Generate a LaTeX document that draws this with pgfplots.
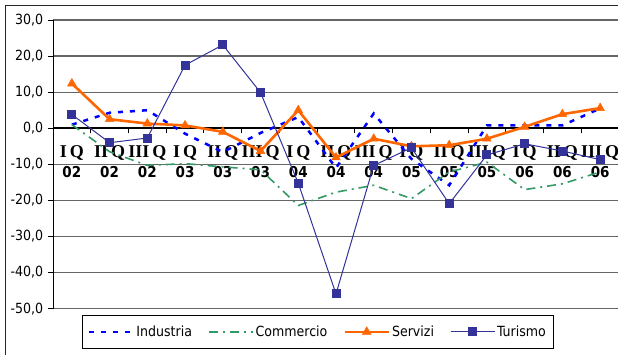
\documentclass[border=0pt]{standalone}
\usepackage{pgfplots}
\pgfplotsset{compat=1.18}
\usepackage{pgfplotstable}
\usepackage{fontspec}
\setmainfont{DejaVu Sans Condensed}
\newfontfamily\romanfont{Liberation Serif}

\definecolor{industria}{HTML}{0000FF}
\definecolor{commercio}{HTML}{339966}
\definecolor{servizi}{HTML}{FF6600}
\definecolor{turismo}{HTML}{333399}

% quarterly change by sector
\pgfplotstableread{
idx Industria Commercio Servizi Turismo
0    1.0    1.0   12.4    3.8
1    4.3   -6.5    2.5   -4.0
2    5.0  -10.3    1.3   -2.7
3   -1.5   -9.8    0.8   17.5
4   -6.6  -10.7   -1.0   23.1
5   -1.3  -11.5   -6.3    9.9
6    3.1  -21.4    5.0  -15.2
7  -11.0  -17.7   -8.1  -45.9
8    4.1  -15.8   -2.9  -10.3
9   -8.5  -19.5   -5.0   -5.4
10 -15.8  -12.1   -4.7  -20.9
11   0.8   -9.4   -2.9   -7.4
12   0.8  -17.0    0.4   -4.3
13   0.8  -15.4    3.9   -6.3
14   5.5  -12.1    5.6   -8.7
}\data

\newcommand\ql[2]{{\romanfont\bfseries\fontsize{18}{20}\selectfont #1}\\[0pt]{\bfseries #2}}

\begin{document}
\begin{tikzpicture}[x=1pt,y=1pt]
\fontsize{14}{17}\selectfont
\begin{axis}[
  at={(53pt,45.3pt)}, anchor=south west,
  width=566pt, height=288.7pt, scale only axis,
  xmin=-0.5, xmax=14.5, ymin=-50, ymax=30,
  axis y line=left, axis x line=middle,
  y axis line style={-, black, line width=0.9pt},
  x axis line style={-, black, line width=2pt},
  hide obscured y ticks=false, hide obscured x ticks=false,
  ytick={-50,-40,...,30},
  ymajorgrids,
  major grid style={black!60, line width=1.2pt},
  xtick={0,...,14},
  xticklabels={{\ql{I\,Q}{02}},{\ql{II\,Q}{02}},{\ql{III\,Q}{02}},
               {\ql{I\,Q}{03}},{\ql{II\,Q}{03}},{\ql{III\,Q}{03}},
               {\ql{I\,Q}{04}},{\ql{II\,Q}{04}},{\ql{III\,Q}{04}},
               {\ql{I\,Q}{05}},{\ql{II\,Q}{05}},{\ql{III\,Q}{05}},
               {\ql{I\,Q}{06}},{\ql{II\,Q}{06}},{\ql{III\,Q}{06}}},
  xticklabel style={align=center, font=\fontsize{15}{20}\selectfont, yshift=-7pt},
  minor xtick={-0.5,0.5,...,14.5},
  major x tick style={draw=none},
  minor x tick style={black, line width=0.9pt},
  minor tick length=5pt,
  major tick length=5pt,
  ytick style={black, line width=0.9pt},
  tick align=outside,
  /pgf/number format/assume math mode=true,
  yticklabel style={font=\fontsize{14}{17}\selectfont,
    /pgf/number format/.cd, fixed, fixed zerofill, precision=1, use comma},
  legend columns=4,
  legend style={at={(rel axis cs:0.468,-0.022)}, anchor=north,
    draw=black, line width=0.8pt, font=\fontsize{14}{17}\selectfont,
    inner xsep=6pt, inner ysep=8pt,
    /tikz/every even column/.append style={column sep=14pt}},
  legend image code/.code={\draw[mark repeat=2, mark phase=2, #1]
    plot coordinates {(0pt,0pt) (22pt,0pt) (44pt,0pt)};},
]
\addplot[industria, line width=2.5pt, dash pattern=on 5pt off 7pt]
  table[x=idx, y=Industria] {\data};
\addlegendentry{Industria}
\addplot[commercio, line width=1.6pt, dash pattern=on 9pt off 5pt on 2pt off 5pt]
  table[x=idx, y=Commercio] {\data};
\addlegendentry{Commercio}
\addplot[servizi, line width=2.6pt, mark=triangle*, mark size=5pt,
  mark options={solid, line width=0.5pt}]
  table[x=idx, y=Servizi] {\data};
\addlegendentry{Servizi}
\addplot[turismo, line width=1pt, mark=square*, mark size=4pt,
  mark options={solid}]
  table[x=idx, y=Turismo] {\data};
\addlegendentry{Turismo}
\end{axis}
% outer chart frame
\draw[black!85, line width=1pt] (5,-20) rectangle (640,348.3);
\pgfresetboundingbox
\path[use as bounding box] (0,0) rectangle (618,354);
\end{tikzpicture}
\end{document}
